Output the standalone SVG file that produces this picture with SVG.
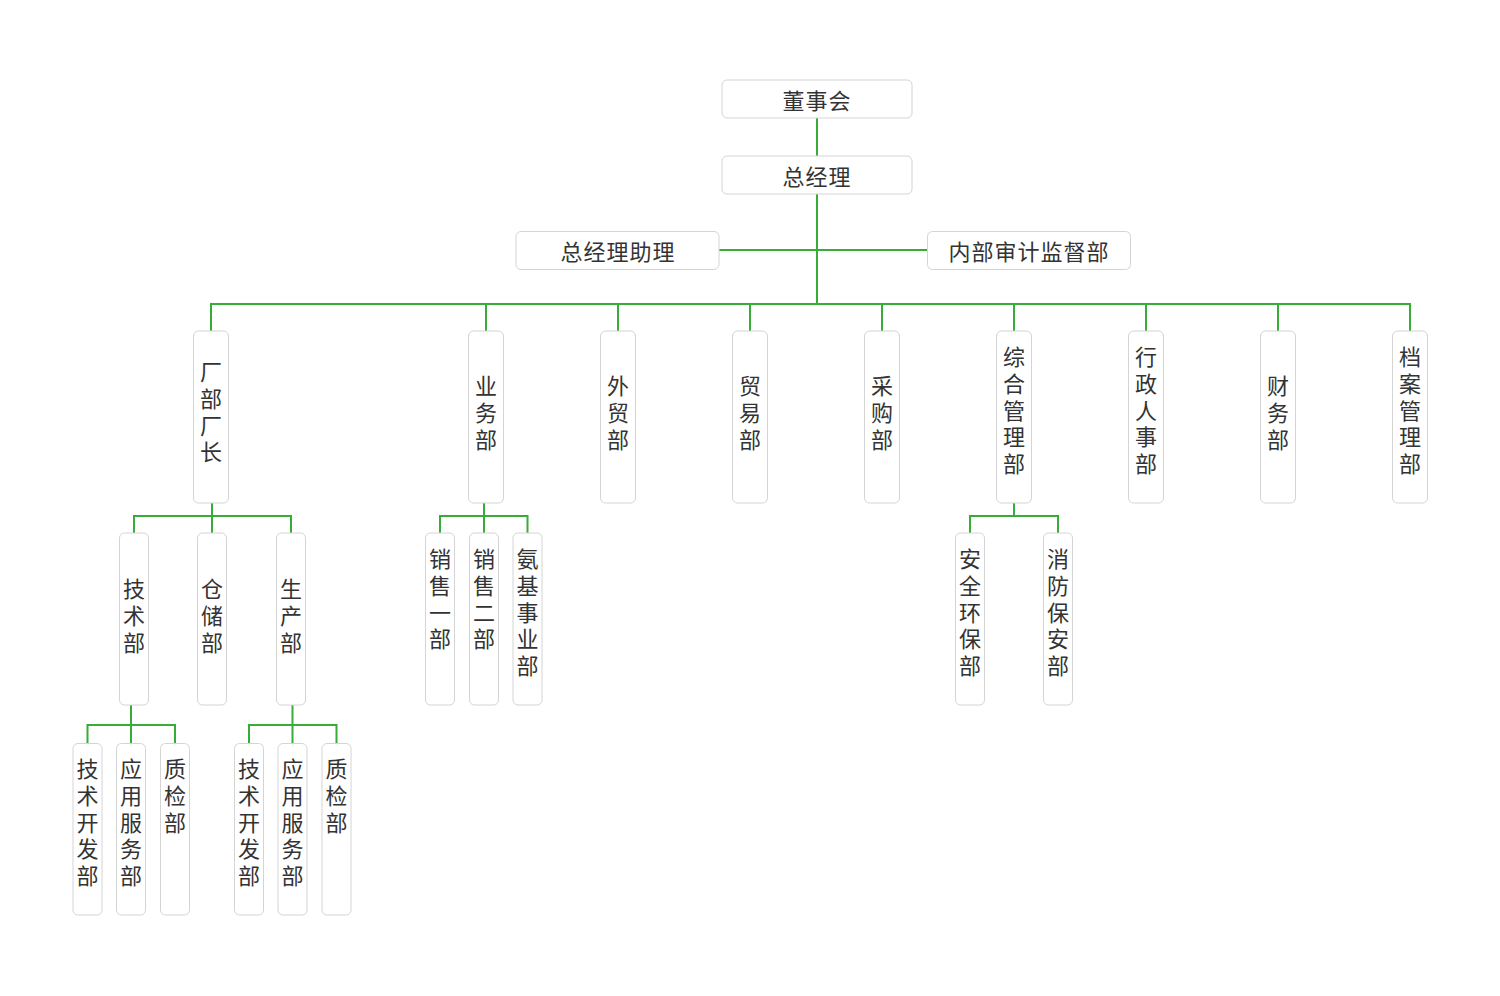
<svg xmlns="http://www.w3.org/2000/svg" width="1500" height="996" viewBox="0 0 1500 996">
<style>
.bg{fill:#ffffff}
.box{fill:#ffffff;stroke:#d4d4d4;stroke-width:1}
.t{font-family:"Noto Sans CJK SC","Noto Sans",sans-serif;font-size:22px;fill:#333333;text-anchor:middle;dominant-baseline:central}
.h{letter-spacing:1px}
.v{font-family:"Noto Sans CJK SC","Noto Sans",sans-serif;font-size:22px;fill:#333333;writing-mode:vertical-rl;text-orientation:upright;letter-spacing:4.6px;text-anchor:start;dominant-baseline:central}
.c{fill:none;stroke:#36ad36;stroke-width:2}
</style>
<rect class="bg" x="0" y="0" width="1500" height="996"/>
<g id="connectors">
<path class="c" d="M817 118V156M817 194V304M719 250H927M211 331V304H1410V331M486 304V331M618 304V331M750 304V331M882 304V331M1014 304V331M1146 304V331M1278 304V331"/>
<path class="c" d="M212 503V533M134 533V516H291V533"/>
<path class="c" d="M131 705V743.5M87.5 743.5V725H175V743.5"/>
<path class="c" d="M292.5 705V743.5M249 743.5V725H336.5V743.5"/>
<path class="c" d="M484 503V533M440 533V516H527.5V533"/>
<path class="c" d="M1014 503V516M970 533V516H1058V533"/>
</g>
<g id="n-dongshihui"><rect class="box" x="722" y="80" width="190" height="38" rx="5"/><text class="t h" x="817" y="98.5">董事会</text></g>
<g id="n-zongjingli"><rect class="box" x="722" y="156" width="190" height="38" rx="5"/><text class="t h" x="817" y="174.5">总经理</text></g>
<g id="n-zhuli"><rect class="box" x="516" y="231.5" width="203" height="38" rx="5"/><text class="t h" x="618" y="249.5">总经理助理</text></g>
<g id="n-shenji"><rect class="box" x="927.5" y="231.5" width="203" height="38" rx="5"/><text class="t h" x="1029" y="249.5">内部审计监督部</text></g>

<g id="n-changbu"><rect class="box" x="193.5" y="331" width="35" height="172" rx="5"/><text class="v" x="211" y="361">厂部厂长</text></g>
<g id="n-yewu"><rect class="box" x="468.5" y="331" width="35" height="172" rx="5"/><text class="v" x="486" y="375">业务部</text></g>
<g id="n-waimao"><rect class="box" x="600.5" y="331" width="35" height="172" rx="5"/><text class="v" x="618" y="375">外贸部</text></g>
<g id="n-maoyi"><rect class="box" x="732.5" y="331" width="35" height="172" rx="5"/><text class="v" x="750" y="375">贸易部</text></g>
<g id="n-caigou"><rect class="box" x="864.5" y="331" width="35" height="172" rx="5"/><text class="v" x="882" y="375">采购部</text></g>
<g id="n-zonghe"><rect class="box" x="996.5" y="331" width="35" height="172" rx="5"/><text class="v" x="1014" y="346">综合管理部</text></g>
<g id="n-xingzheng"><rect class="box" x="1128.5" y="331" width="35" height="172" rx="5"/><text class="v" x="1146" y="346">行政人事部</text></g>
<g id="n-caiwu"><rect class="box" x="1260.5" y="331" width="35" height="172" rx="5"/><text class="v" x="1278" y="375">财务部</text></g>
<g id="n-dangan"><rect class="box" x="1392.5" y="331" width="35" height="172" rx="5"/><text class="v" x="1410" y="346">档案管理部</text></g>

<g id="n-jishu"><rect class="box" x="119.5" y="533" width="29" height="172" rx="5"/><text class="v" x="134" y="578">技术部</text></g>
<g id="n-cangchu"><rect class="box" x="197.5" y="533" width="29" height="172" rx="5"/><text class="v" x="212" y="578">仓储部</text></g>
<g id="n-shengchan"><rect class="box" x="276.5" y="533" width="29" height="172" rx="5"/><text class="v" x="291" y="578">生产部</text></g>
<g id="n-xiaoshou1"><rect class="box" x="425.5" y="533" width="29" height="172" rx="5"/><text class="v" x="440" y="548">销售一部</text></g>
<g id="n-xiaoshou2"><rect class="box" x="469.5" y="533" width="29" height="172" rx="5"/><text class="v" x="484" y="548">销售二部</text></g>
<g id="n-anji"><rect class="box" x="513" y="533" width="29" height="172" rx="5"/><text class="v" x="527.5" y="548">氨基事业部</text></g>
<g id="n-anquan"><rect class="box" x="955.5" y="533" width="29" height="172" rx="5"/><text class="v" x="970" y="548">安全环保部</text></g>
<g id="n-xiaofang"><rect class="box" x="1043.5" y="533" width="29" height="172" rx="5"/><text class="v" x="1058" y="548">消防保安部</text></g>

<g id="n-jskf1"><rect class="box" x="73" y="743.5" width="29" height="171.5" rx="5"/><text class="v" x="87.5" y="758">技术开发部</text></g>
<g id="n-yyfw1"><rect class="box" x="116.5" y="743.5" width="29" height="171.5" rx="5"/><text class="v" x="131" y="758">应用服务部</text></g>
<g id="n-zhijian1"><rect class="box" x="160.5" y="743.5" width="29" height="171.5" rx="5"/><text class="v" x="175" y="758">质检部</text></g>
<g id="n-jskf2"><rect class="box" x="234.5" y="743.5" width="29" height="171.5" rx="5"/><text class="v" x="249" y="758">技术开发部</text></g>
<g id="n-yyfw2"><rect class="box" x="278" y="743.5" width="29" height="171.5" rx="5"/><text class="v" x="292.5" y="758">应用服务部</text></g>
<g id="n-zhijian2"><rect class="box" x="322" y="743.5" width="29" height="171.5" rx="5"/><text class="v" x="336.5" y="758">质检部</text></g>
</svg>
